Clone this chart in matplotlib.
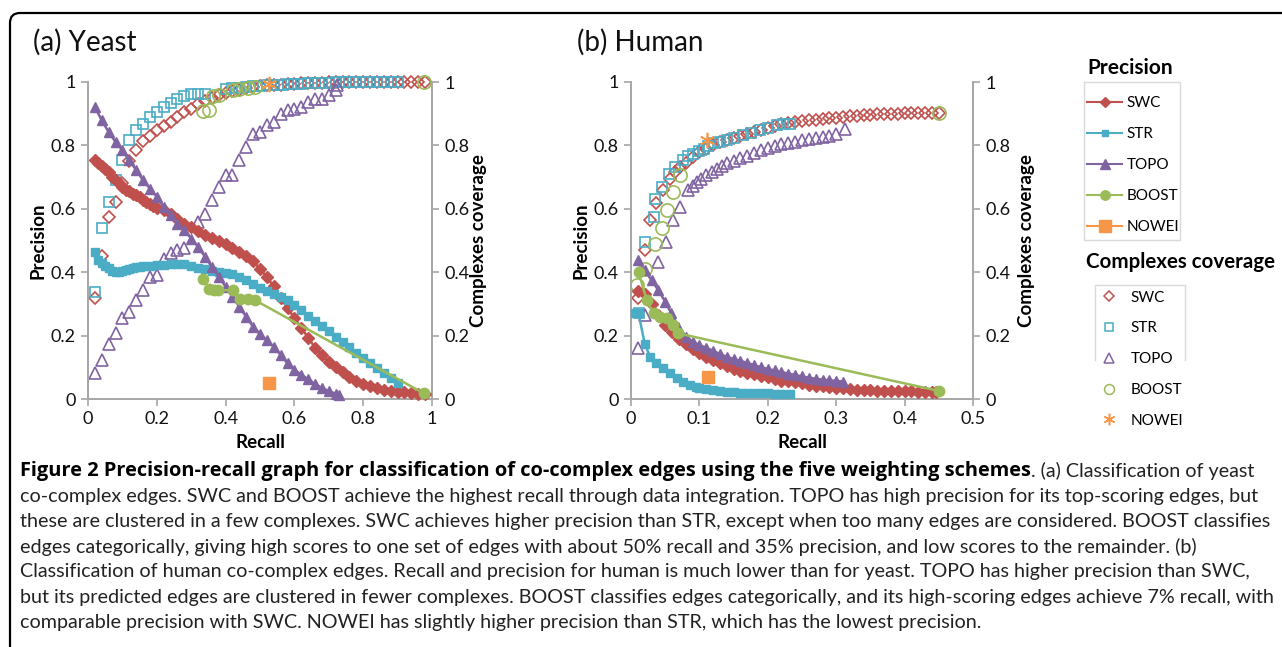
import matplotlib
matplotlib.use("Agg")
import matplotlib.pyplot as plt
from matplotlib.lines import Line2D
from matplotlib.patches import FancyBboxPatch
from matplotlib.transforms import IdentityTransform

plt.rcParams['font.family'] = ['Lato', 'DejaVu Sans']

# ---------------- data: (a) yeast ----------------
ya_swc_r = [0.02, 0.03, 0.04, 0.05, 0.06, 0.07, 0.08, 0.09, 0.10, 0.11, 0.12, 0.13, 0.14, 0.15,
            0.16, 0.17, 0.18, 0.19, 0.20, 0.22, 0.24, 0.26, 0.28, 0.30, 0.32, 0.34, 0.36, 0.38,
            0.40, 0.42, 0.44, 0.46, 0.48, 0.50, 0.52, 0.54, 0.56, 0.58, 0.60, 0.62, 0.64, 0.66,
            0.68, 0.70, 0.72, 0.74, 0.76, 0.78, 0.80, 0.82, 0.84, 0.86, 0.88, 0.90, 0.92, 0.94,
            0.96, 0.98]
ya_swc_p = [0.755, 0.745, 0.735, 0.725, 0.715, 0.70, 0.69, 0.68, 0.67, 0.66, 0.655, 0.648, 0.643,
            0.636, 0.628, 0.620, 0.614, 0.610, 0.604, 0.597, 0.585, 0.568, 0.552, 0.542, 0.530,
            0.518, 0.508, 0.497, 0.488, 0.476, 0.465, 0.452, 0.436, 0.410, 0.385, 0.355, 0.318,
            0.288, 0.255, 0.225, 0.193, 0.162, 0.138, 0.118, 0.100, 0.085, 0.070, 0.057, 0.048,
            0.040, 0.034, 0.029, 0.026, 0.023, 0.021, 0.019, 0.017, 0.015]
ya_swc_cr = [0.02, 0.04, 0.06, 0.08, 0.10, 0.12, 0.14, 0.16, 0.18, 0.20, 0.22, 0.24, 0.26, 0.28,
             0.30, 0.32, 0.34, 0.36, 0.38, 0.40, 0.42, 0.44, 0.46, 0.48, 0.50, 0.52, 0.54, 0.56,
             0.58, 0.60, 0.62, 0.64, 0.66, 0.68, 0.70, 0.72, 0.74, 0.76, 0.78, 0.80, 0.82, 0.84,
             0.86, 0.88, 0.90, 0.92, 0.94, 0.96, 0.98]
ya_swc_c = [0.32, 0.45, 0.575, 0.62, 0.68, 0.75, 0.785, 0.815, 0.83, 0.848, 0.86, 0.874, 0.89,
            0.905, 0.915, 0.93, 0.94, 0.95, 0.96, 0.965, 0.972, 0.975, 0.98, 0.983, 0.986, 0.99,
            0.99, 0.992, 0.994, 0.995, 0.996, 0.997, 0.998, 0.998, 0.999, 1.0, 1.0, 1.0, 1.0,
            1.0, 1.0, 1.0, 1.0, 1.0, 1.0, 1.0, 1.0, 1.0, 1.0]

ya_str_r = [0.02, 0.03, 0.04, 0.05, 0.06, 0.07, 0.08, 0.09, 0.10, 0.11, 0.12, 0.13, 0.14, 0.15,
            0.16, 0.18, 0.20, 0.22, 0.24, 0.26, 0.28, 0.30, 0.32, 0.34, 0.36, 0.38, 0.40, 0.42,
            0.44, 0.46, 0.48, 0.50, 0.52, 0.54, 0.56, 0.58, 0.60, 0.62, 0.64, 0.66, 0.68, 0.70,
            0.72, 0.74, 0.76, 0.78, 0.80, 0.82, 0.84, 0.86, 0.88, 0.90]
ya_str_p = [0.464, 0.44, 0.428, 0.42, 0.412, 0.405, 0.400, 0.400, 0.403, 0.407, 0.410, 0.413,
            0.415, 0.417, 0.418, 0.420, 0.422, 0.424, 0.426, 0.427, 0.426, 0.420, 0.414, 0.409,
            0.405, 0.401, 0.398, 0.395, 0.385, 0.375, 0.362, 0.350, 0.340, 0.332, 0.322, 0.311,
            0.296, 0.280, 0.262, 0.246, 0.230, 0.213, 0.197, 0.180, 0.163, 0.146, 0.130, 0.114,
            0.098, 0.082, 0.065, 0.049]
ya_str_cr = [0.02, 0.04, 0.06, 0.08, 0.10, 0.12, 0.14, 0.16, 0.18, 0.20, 0.22, 0.24, 0.26, 0.28,
             0.30, 0.32, 0.34, 0.40, 0.42, 0.44, 0.46, 0.48, 0.50, 0.52, 0.54, 0.56, 0.58, 0.60,
             0.62, 0.64, 0.66, 0.68, 0.70, 0.72, 0.74, 0.76, 0.78, 0.80, 0.82, 0.84, 0.86, 0.88,
             0.90]
ya_str_c = [0.338, 0.54, 0.62, 0.69, 0.753, 0.816, 0.848, 0.869, 0.89, 0.905, 0.921, 0.935, 0.947,
            0.957, 0.963, 0.963, 0.963, 0.979, 0.98, 0.982, 0.984, 0.986, 0.988, 0.99, 0.99,
            0.992, 0.993, 0.994, 0.995, 0.996, 0.997, 0.998, 0.998, 0.999, 1.0, 1.0, 1.0, 1.0,
            1.0, 1.0, 1.0, 1.0, 1.0]

ya_topo_r = [0.02, 0.04, 0.06, 0.08, 0.10, 0.12, 0.14, 0.16, 0.18, 0.20, 0.22, 0.24, 0.26, 0.28,
             0.30, 0.32, 0.34, 0.36, 0.38, 0.40, 0.42, 0.44, 0.46, 0.48, 0.50, 0.52, 0.54, 0.56,
             0.58, 0.60, 0.62, 0.64, 0.66, 0.68, 0.70, 0.72, 0.73]
ya_topo_p = [0.921, 0.879, 0.842, 0.811, 0.785, 0.753, 0.722, 0.69, 0.664, 0.638, 0.606, 0.58,
             0.553, 0.533, 0.506, 0.48, 0.449, 0.417, 0.386, 0.354, 0.322, 0.291, 0.259, 0.228,
             0.205, 0.185, 0.165, 0.139, 0.112, 0.092, 0.077, 0.062, 0.047, 0.035, 0.025, 0.017,
             0.014]
ya_topo_cr = [0.02, 0.04, 0.06, 0.08, 0.10, 0.12, 0.14, 0.16, 0.18, 0.20, 0.22, 0.24, 0.26, 0.28,
              0.32, 0.34, 0.36, 0.38, 0.40, 0.42, 0.44, 0.46, 0.48, 0.50, 0.52, 0.54, 0.56, 0.58,
              0.60, 0.62, 0.64, 0.66, 0.68, 0.70, 0.72, 0.725]
ya_topo_c = [0.081, 0.123, 0.175, 0.207, 0.254, 0.275, 0.312, 0.343, 0.386, 0.39, 0.443, 0.459,
             0.47, 0.475, 0.559, 0.585, 0.627, 0.669, 0.706, 0.706, 0.753, 0.795, 0.837, 0.842,
             0.863, 0.874, 0.90, 0.911, 0.916, 0.921, 0.937, 0.947, 0.947, 0.958, 0.974, 0.99]

ya_boost_r = [0.335, 0.352, 0.366, 0.379, 0.422, 0.442, 0.466, 0.485, 0.976]
ya_boost_p = [0.38, 0.346, 0.345, 0.343, 0.343, 0.317, 0.317, 0.312, 0.018]
ya_boost_cr = [0.335, 0.352, 0.364, 0.38, 0.422, 0.44, 0.466, 0.485, 0.976]
ya_boost_c = [0.91, 0.913, 0.955, 0.96, 0.974, 0.978, 0.982, 0.984, 1.0]

ya_nowei_r = [0.527]
ya_nowei_p = [0.049]
ya_nowei_c = [0.995]

# ---------------- data: (b) human ----------------
hb_swc_r = [0.01, 0.02, 0.03, 0.04, 0.05, 0.06, 0.07, 0.08, 0.09, 0.10, 0.11, 0.12, 0.13, 0.14,
            0.15, 0.16, 0.17, 0.18, 0.19, 0.20, 0.21, 0.22, 0.23, 0.24, 0.25, 0.26, 0.27, 0.28,
            0.29, 0.30, 0.31, 0.32, 0.33, 0.34, 0.35, 0.36, 0.37, 0.38, 0.39, 0.40, 0.41, 0.42,
            0.43, 0.44, 0.446]
hb_swc_p = [0.34, 0.33, 0.30, 0.265, 0.235, 0.212, 0.19, 0.172, 0.157, 0.145, 0.133, 0.122,
            0.113, 0.103, 0.095, 0.088, 0.082, 0.078, 0.074, 0.068, 0.062, 0.058, 0.056, 0.054,
            0.050, 0.045, 0.042, 0.040, 0.038, 0.036, 0.034, 0.031, 0.029, 0.028, 0.027, 0.026,
            0.026, 0.025, 0.025, 0.024, 0.024, 0.023, 0.023, 0.023, 0.022]
hb_swc_cr = [0.01, 0.02, 0.028, 0.037, 0.047, 0.057, 0.065, 0.072, 0.08, 0.09, 0.10, 0.11, 0.12,
             0.13, 0.14, 0.15, 0.16, 0.17, 0.18, 0.19, 0.20, 0.21, 0.22, 0.23, 0.24, 0.25, 0.26,
             0.27, 0.28, 0.29, 0.30, 0.31, 0.32, 0.33, 0.34, 0.35, 0.36, 0.37, 0.38, 0.39, 0.40,
             0.41, 0.42, 0.43, 0.44, 0.451]
hb_swc_c = [0.32, 0.47, 0.564, 0.617, 0.659, 0.695, 0.715, 0.732, 0.745, 0.763, 0.779, 0.79, 0.80,
            0.81, 0.816, 0.824, 0.83, 0.837, 0.843, 0.848, 0.855, 0.861, 0.866, 0.870, 0.874,
            0.877, 0.879, 0.881, 0.883, 0.886, 0.888, 0.89, 0.892, 0.894, 0.896, 0.897, 0.898,
            0.899, 0.90, 0.90, 0.901, 0.902, 0.902, 0.902, 0.902, 0.902]

hb_str_r = [0.006, 0.011, 0.02, 0.028, 0.037, 0.047, 0.057, 0.067, 0.076, 0.086, 0.095, 0.10,
            0.11, 0.12, 0.13, 0.14, 0.15, 0.16, 0.17, 0.18, 0.19, 0.20, 0.21, 0.22, 0.232]
hb_str_p = [0.27, 0.27, 0.175, 0.133, 0.112, 0.097, 0.081, 0.065, 0.055, 0.044, 0.038, 0.034,
            0.031, 0.028, 0.026, 0.023, 0.022, 0.020, 0.019, 0.018, 0.018, 0.018, 0.017, 0.017,
            0.017]
hb_str_cr = [0.011, 0.02, 0.033, 0.035, 0.045, 0.055, 0.064, 0.076, 0.084, 0.091, 0.10, 0.106,
             0.113, 0.12, 0.13, 0.14, 0.15, 0.164, 0.175, 0.188, 0.20, 0.213, 0.222, 0.232]
hb_str_c = [0.27, 0.496, 0.575, 0.632, 0.669, 0.711, 0.732, 0.753, 0.765, 0.774, 0.782, 0.79,
            0.798, 0.806, 0.811, 0.816, 0.824, 0.832, 0.84, 0.848, 0.855, 0.863, 0.866, 0.869]

hb_topo_r = [0.01, 0.02, 0.03, 0.04, 0.05, 0.059, 0.069, 0.081, 0.091, 0.10, 0.11, 0.12, 0.13,
             0.14, 0.15, 0.16, 0.17, 0.18, 0.19, 0.20, 0.21, 0.22, 0.23, 0.24, 0.25, 0.26, 0.27,
             0.28, 0.29, 0.30, 0.31]
hb_topo_p = [0.438, 0.406, 0.375, 0.343, 0.307, 0.27, 0.228, 0.196, 0.18, 0.17, 0.162, 0.152,
             0.142, 0.133, 0.126, 0.12, 0.114, 0.107, 0.10, 0.095, 0.09, 0.085, 0.08, 0.076,
             0.071, 0.067, 0.064, 0.061, 0.059, 0.057, 0.055]
hb_topo_cr = [0.01, 0.02, 0.04, 0.051, 0.062, 0.072, 0.084, 0.09, 0.096, 0.103, 0.11, 0.118,
              0.125, 0.133, 0.14, 0.15, 0.16, 0.17, 0.18, 0.19, 0.20, 0.21, 0.22, 0.23, 0.24,
              0.25, 0.26, 0.27, 0.28, 0.29, 0.30, 0.313]
hb_topo_c = [0.16, 0.265, 0.433, 0.496, 0.564, 0.606, 0.659, 0.672, 0.685, 0.695, 0.706, 0.716,
             0.727, 0.735, 0.743, 0.75, 0.76, 0.768, 0.777, 0.785, 0.792, 0.798, 0.803, 0.807,
             0.811, 0.816, 0.821, 0.824, 0.827, 0.83, 0.835, 0.853]

hb_boost_r = [0.011, 0.023, 0.033, 0.042, 0.052, 0.062, 0.069, 0.451]
hb_boost_p = [0.40, 0.312, 0.27, 0.26, 0.254, 0.233, 0.207, 0.025]
hb_boost_cr = [0.009, 0.02, 0.035, 0.045, 0.052, 0.062, 0.072, 0.451]
hb_boost_c = [0.36, 0.41, 0.49, 0.538, 0.596, 0.653, 0.706, 0.902]

hb_nowei_r = [0.113]
hb_nowei_p = [0.07]
hb_nowei_cr = [0.111]
hb_nowei_c = [0.816]

schemes = ['SWC', 'STR', 'TOPO', 'BOOST', 'NOWEI']
colors = ['#C0504D', '#4BACC6', '#8064A2', '#9BBB59', '#F79646']
markers = ['D', 's', '^', 'o', 's']
msizes = [6, 5.5, 7.5, 7.5, 9]
open_markers = ['D', 's', '^', 'o', (6, 2, 0)]
open_sizes = [6.5, 7, 9, 9.5, 11]

caption_bold = ("Figure 2 Precision-recall graph for classification of co-complex edges "
                "using the five weighting schemes")
caption_lines = [
    ". (a) Classification of yeast",
    "co-complex edges. SWC and BOOST achieve the highest recall through data integration. "
    "TOPO has high precision for its top-scoring edges, but",
    "these are clustered in a few complexes. SWC achieves higher precision than STR, except "
    "when too many edges are considered. BOOST classifies",
    "edges categorically, giving high scores to one set of edges with about 50% recall and 35% "
    "precision, and low scores to the remainder. (b)",
    "Classification of human co-complex edges. Recall and precision for human is much lower "
    "than for yeast. TOPO has higher precision than SWC,",
    "but its predicted edges are clustered in fewer complexes. BOOST classifies edges "
    "categorically, and its high-scoring edges achieve 7% recall, with",
    "comparable precision with SWC. NOWEI has slightly higher precision than STR, which has "
    "the lowest precision.",
]

W, H = 1282, 647
fig = plt.figure(figsize=(W / 100, H / 100), dpi=100)
fig.patch.set_facecolor('white')


def px_axes(x0, x1, y_top, y_bot):
    return fig.add_axes([x0 / W, 1 - y_bot / H, (x1 - x0) / W, (y_bot - y_top) / H])


def style_axes(ax, ax2, xmax, xstep):
    gray = '#A6A6A6'
    for a in (ax, ax2):
        a.spines['top'].set_visible(False)
        for s in ('left', 'right', 'bottom'):
            a.spines[s].set_color(gray)
            a.spines[s].set_linewidth(1.2)
        a.set_ylim(0, 1)
        a.set_yticks([0, 0.2, 0.4, 0.6, 0.8, 1])
        a.set_yticklabels(['0', '0.2', '0.4', '0.6', '0.8', '1'])
        a.tick_params(length=5, width=1.2, color=gray, labelsize=13, labelcolor='#111111', pad=4)
    ax.set_xlim(0, xmax)
    xt = [round(i * xstep, 2) for i in range(int(round(xmax / xstep)) + 1)]
    ax.set_xticks(xt)
    ax.set_xticklabels([('%g' % v) for v in xt])
    ax.set_zorder(ax2.get_zorder() + 1)
    ax.patch.set_visible(False)


def draw_panel(ax, ax2, prec, cov):
    for i, name in enumerate(schemes):
        r, p = prec[i]
        ax.plot(r, p, color=colors[i], marker=markers[i], ms=msizes[i], lw=1.8,
                mec=colors[i], mfc=colors[i], clip_on=False, zorder=3 + (i == 4))
        cr, c = cov[i]
        ax2.plot(cr, c, ls='none', marker=open_markers[i], ms=open_sizes[i], mfc='none',
                 mec=colors[i], mew=1.2, clip_on=False)


# panel a
axa = px_axes(88, 432, 82, 399)
axa2 = axa.twinx()
draw_panel(axa, axa2,
           [(ya_swc_r, ya_swc_p), (ya_str_r, ya_str_p), (ya_topo_r, ya_topo_p),
            (ya_boost_r, ya_boost_p), (ya_nowei_r, ya_nowei_p)],
           [(ya_swc_cr, ya_swc_c), (ya_str_cr, ya_str_c), (ya_topo_cr, ya_topo_c),
            (ya_boost_cr, ya_boost_c), (ya_nowei_r, ya_nowei_c)])
style_axes(axa, axa2, 1.0, 0.2)

# panel b
axb = px_axes(631, 973, 82, 399)
axb2 = axb.twinx()
draw_panel(axb, axb2,
           [(hb_swc_r, hb_swc_p), (hb_str_r, hb_str_p), (hb_topo_r, hb_topo_p),
            (hb_boost_r, hb_boost_p), (hb_nowei_r, hb_nowei_p)],
           [(hb_swc_cr, hb_swc_c), (hb_str_cr, hb_str_c), (hb_topo_cr, hb_topo_c),
            (hb_boost_cr, hb_boost_c), (hb_nowei_cr, hb_nowei_c)])
style_axes(axb, axb2, 0.5, 0.1)

for ax, ax2, px_l, px_r in ((axa, axa2, 47, 470), (axb, axb2, 589, 1018)):
    x0 = ax.get_position().x0 * W
    wpx = ax.get_position().width * W
    ax.set_ylabel('Precision', fontsize=13.5, fontweight='bold')
    ax.yaxis.set_label_coords((px_l - x0) / wpx, 0.5)
    ax.set_xlabel('Recall', fontsize=13.5, fontweight='bold')
    ax.xaxis.set_label_coords(0.5, -0.11)
    ax2.set_ylabel('Complexes coverage', fontsize=13.5, fontweight='bold')
    ax2.yaxis.set_label_coords((px_r - x0) / wpx, 0.5)

fig.text(33 / W, 1 - 42 / H, '(a) Yeast', fontsize=20, va='center', ha='left', color='#111111')
fig.text(577 / W, 1 - 42 / H, '(b) Human', fontsize=20, va='center', ha='left', color='#111111')

# legends
fig.text(1087 / W, 1 - 68 / H, 'Precision', fontsize=15, fontweight='bold', va='center')
fig.text(1086 / W, 1 - 262 / H, 'Complexes coverage', fontsize=14.8, fontweight='bold',
         va='center')
h1 = [Line2D([], [], color=colors[i], marker=markers[i], ms=msizes[i] * 0.9, lw=1.5,
             mfc=colors[i], mec=colors[i]) for i in range(5)]
h2 = [Line2D([], [], ls='none', color=colors[i], marker=open_markers[i], ms=open_sizes[i] * 0.75,
             mfc='none', mec=colors[i], mew=1.1) for i in range(5)]
fig.legend(h1, schemes, loc='upper left', bbox_to_anchor=(1087 / W, 1 - 96 / H),
           frameon=False, fontsize=11, handlelength=2.3, handletextpad=0.3,
           labelspacing=1.12, borderpad=0, borderaxespad=0)
fig.legend(h2, schemes, loc='upper left', bbox_to_anchor=(1100 / W, 1 - 290.5 / H),
           frameon=False, fontsize=11, handlelength=1.2, handletextpad=0.8,
           labelspacing=1.1, borderpad=0, borderaxespad=0)

frame_c = '#D9D9D9'
for xs, ys in (([1084, 1084, 1180, 1180, 1084], [82, 240, 240, 82, 82]),
               ([1095, 1095, 1185, 1185], [360, 285, 285, 360])):
    fig.add_artist(Line2D([x / W for x in xs], [1 - y / H for y in ys], color=frame_c,
                          lw=1, transform=fig.transFigure))

# outer frame (top and left edges with rounded corner)
fig.add_artist(FancyBboxPatch((10, -30), 1330, 30 + (H - 13),
                              boxstyle='round,pad=0,rounding_size=10',
                              transform=IdentityTransform(), fill=False, ec='black', lw=1.6))

# caption
cap_size = 14.2
y0 = 471
t = fig.text(20 / W, 1 - y0 / H, caption_bold, fontsize=14.4, fontweight='bold',
             family=['Open Sans', 'DejaVu Sans'], va='center', ha='left', color='black')
fig.canvas.draw()
bb = t.get_window_extent()
fig.text(bb.x1 / W, 1 - y0 / H, caption_lines[0], fontsize=cap_size, va='center', ha='left',
         color='#222222')
for k, line in enumerate(caption_lines[1:]):
    fig.text(20 / W, 1 - (y0 + 25.2 * (k + 1)) / H, line, fontsize=cap_size, va='center',
             ha='left', color='#222222')

fig.savefig('out.png', dpi=100)
